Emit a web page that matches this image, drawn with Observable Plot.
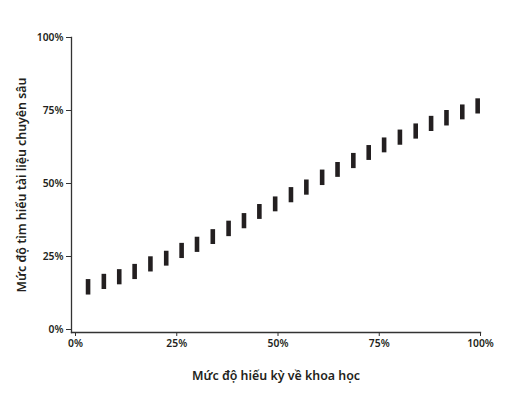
<!DOCTYPE html>
<html>
<head>
<meta charset="utf-8">
<script src="https://cdn.jsdelivr.net/npm/d3@7"></script>
<script src="https://cdn.jsdelivr.net/npm/@observablehq/plot@0.6"></script>
<style>
  html, body { margin: 0; padding: 0; background: #fff; }
  svg { display: block; }
</style>
</head>
<body>
<div id="chart"></div>
<script>
// Curiosity about science (x, %) and the range of in-depth research (y, %)
const curiosity = [3.1, 7.0, 10.8, 14.6, 18.5, 22.4, 26.2, 30.0, 33.9, 37.8, 41.6, 45.4, 49.3,
                   53.2, 57.0, 60.9, 64.7, 68.6, 72.4, 76.2, 80.1, 84.0, 87.8, 91.6, 95.5, 99.3];
const researchLow = [11.8, 13.7, 15.3, 17.1, 19.7, 21.7, 24.3, 26.4, 29.1, 31.8, 34.5, 37.7, 40.3,
                     43.4, 46.0, 49.3, 52.1, 55.1, 57.9, 60.5, 63.1, 65.2, 67.8, 69.7, 71.8, 73.8];
const researchHigh = [17.1, 18.9, 20.5, 22.3, 24.9, 26.8, 29.5, 31.6, 34.2, 37.1, 39.7, 42.8, 45.4,
                      48.6, 51.2, 54.6, 57.2, 60.3, 63.0, 65.6, 68.3, 70.4, 73.0, 75.0, 76.9, 79.0];
const tickValues = [0, 25, 50, 75, 100];
const xLabel = "Mức độ hiếu kỳ về khoa học";
const yLabel = "Mức độ tìm hiểu tài liệu chuyên sâu";

const rows = curiosity.map((x, i) => ({x, low: researchLow[i], high: researchHigh[i]}));
const ink = "#231f20";
const pct = d => d + "%";

const chart = Plot.plot({
  width: 511,
  height: 393,
  marginLeft: 71,
  marginRight: 31,
  marginTop: 37,
  marginBottom: 61,
  style: {fontFamily: "'Noto Sans', sans-serif", color: ink, background: "#fff"},
  x: {domain: [0, 100], insetLeft: 4, insetRight: 0},
  y: {domain: [0, 100], insetBottom: 3, insetTop: 0},
  marks: [
    Plot.frame({anchor: "left", stroke: "#333", strokeWidth: 1.3}),
    Plot.frame({anchor: "bottom", stroke: "#333", strokeWidth: 1.3}),
    Plot.axisX({ticks: tickValues, tickFormat: pct, tickSize: 4, tickPadding: 3,
      fontSize: 10.3, fontWeight: 600, stroke: "#333",
      label: xLabel, labelAnchor: "center", labelArrow: "none", labelOffset: 47}),
    Plot.axisY({ticks: tickValues, tickFormat: pct, tickSize: 5, tickPadding: 3,
      fontSize: 10.3, fontWeight: 600, stroke: "#333",
      label: yLabel, labelAnchor: "center", labelArrow: "none", labelOffset: 54}),
    Plot.ruleX(rows, {x: "x", y1: "low", y2: "high", stroke: ink, strokeWidth: 4.6})
  ]
});
document.getElementById("chart").appendChild(chart);
chart.querySelectorAll("g[aria-label='x-axis label'] text, g[aria-label='y-axis label'] text")
  .forEach(t => { t.setAttribute("font-size", "12.4"); t.setAttribute("font-weight", "600"); });
</script>
</body>
</html>
